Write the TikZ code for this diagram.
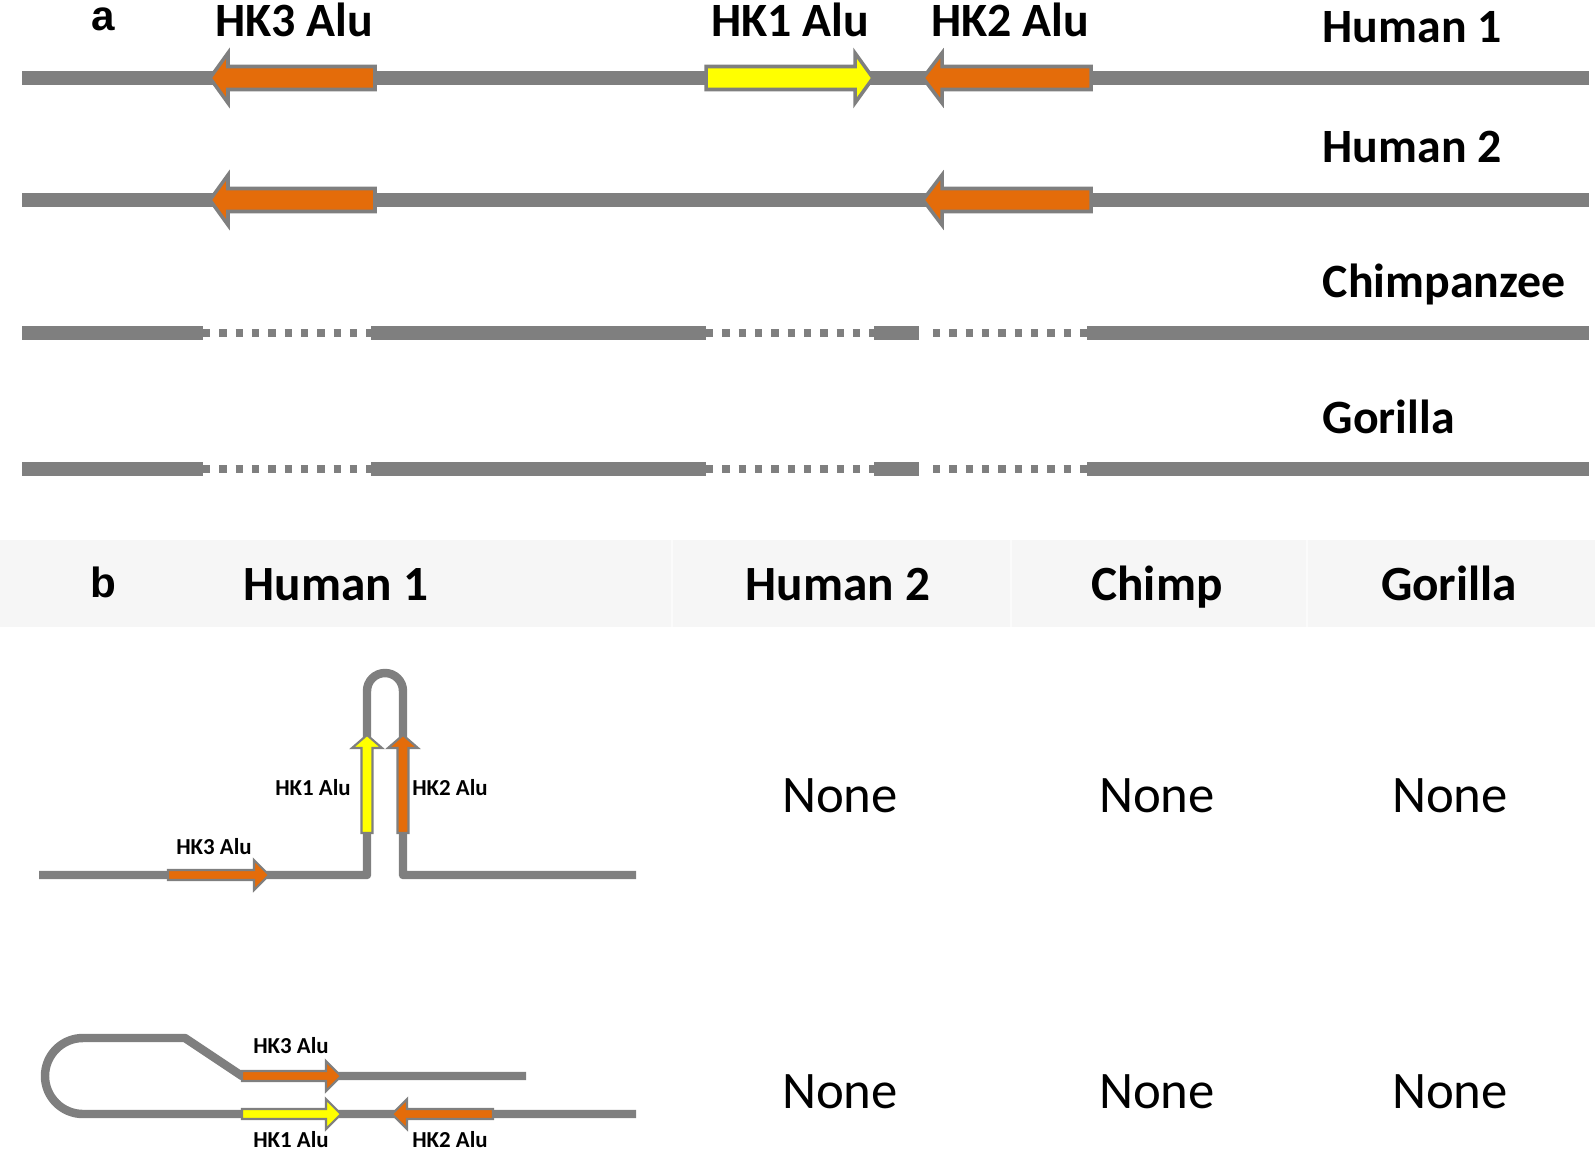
\documentclass[tikz,border=0pt]{standalone}
\usepackage{fontspec}
\setmainfont{Carlito}
\newfontfamily\panelfont{Liberation Sans}
\usetikzlibrary{positioning, calc}

\definecolor{strandgray}{RGB}{127,127,127}
\definecolor{aluorange}{RGB}{228,108,10}
\definecolor{aluyellow}{RGB}{255,255,0}
\definecolor{headbg}{RGB}{246,246,246}

\begin{document}
\begin{tikzpicture}[x=0.01cm, y=-0.01cm]

  % Define styles
  \tikzset{
    strand/.style={draw=strandgray, line width=3.7pt},
    thin strand/.style={draw=strandgray, line width=2.4pt, line join=round},
    gap dots/.style={draw=strandgray, line width=2.1pt, dash pattern=on 2.1pt off 2.54pt},
    alu edge/.style={draw=strandgray, line width=1pt, line join=miter},
    small alu edge/.style={draw=strandgray, line width=0.6pt, line join=miter},
    cap text/.style={inner sep=0pt, text depth=0pt},
    big label/.style={cap text, text height=8.7pt, font=\bfseries\fontsize{13.6}{16}\selectfont},
    head label/.style={cap text, text height=9pt, font=\bfseries\fontsize{14}{17}\selectfont},
    none label/.style={cap text, text height=9.6pt, font=\fontsize{15}{18}\selectfont},
    small label/.style={cap text, text height=4.2pt, font=\bfseries\fontsize{6.5}{8}\selectfont},
    panel letter/.style={inner sep=0pt, font=\panelfont\bfseries\fontsize{12}{14}\selectfont},
    % fill, length, body half, head half, head length, edge style
    pics/alu/.style n args={6}{code={
      \path[#6, fill=#1] (0,-#3) -- ({#2-#5},-#3) -- ({#2-#5},-#4) -- (#2,0)
        -- ({#2-#5},#4) -- ({#2-#5},#3) -- (0,#3) -- cycle;
    }},
  }

  \useasboundingbox (0,0) rectangle (1595,1152);

  % Panel a: the four sequences
  \foreach \yy in {78, 200}
    \draw[strand] (22,\yy) -- (1589,\yy);
  \foreach \yy in {333, 469} {
    \draw[strand] (22,\yy) -- (203,\yy);
    \draw[strand] (371,\yy) -- (706,\yy);
    \draw[strand] (874,\yy) -- (919,\yy);
    \draw[strand] (1087,\yy) -- (1589,\yy);
    \draw[gap dots] (203,\yy) -- (371,\yy);
    \draw[gap dots] (706,\yy) -- (874,\yy);
    \draw[gap dots] (933,\yy) -- (1087,\yy);
  }

  % Alu insertions
  \foreach \yy in {78, 200} {
    \pic[rotate=180] at (375,\yy) {alu={aluorange}{165}{11.5}{25}{18}{alu edge}};
    \pic[rotate=180] at (1091,\yy) {alu={aluorange}{168}{11.5}{25}{19}{alu edge}};
  }
  \pic at (706,78) {alu={aluyellow}{167}{11.5}{25}{18}{alu edge}};

  \node[panel letter, anchor=base] (letA) at (103,31) {a};
  \node[big label] (hk3top) at (294,21) {HK3 Alu};
  \node[big label] (hk1top) at (790,21) {HK1 Alu};
  \node[big label] (hk2top) at (1010,21) {HK2 Alu};
  \node[big label, anchor=west] (human1) at (1322,27) {Human 1};
  \node[big label, anchor=west] (human2) at (1322,147) {Human 2};
  \node[big label, anchor=west] (chimp) at (1322,282) {Chimpanzee};
  \node[big label, anchor=west] (gorilla) at (1322,418) {Gorilla};

  % Panel b: header row
  \fill[headbg] (0,540) rectangle (1595,627);
  \foreach \xx in {672, 1011, 1307}
    \draw[white!60!headbg, line width=0.4pt] (\xx,540) -- (\xx,627);
  \node[panel letter, anchor=base] (letB) at (103,597) {b};
  \node[head label] (colHumanA) at (336,585) {Human 1};
  \node[head label] (colHumanB) at (838,585) {Human 2};
  \node[head label] (colChimp) at (1157,585) {Chimp};
  \node[head label] (colGorilla) at (1449,585) {Gorilla};

  \foreach \yy/\rw in {796/one, 1092/two}
    \foreach \xx/\cl in {840/humanB, 1157/chimp, 1450/gorilla}
      \node[none label] (none-\rw-\cl) at (\xx,\yy) {None};

  % Hairpin structure
  \draw[thin strand] (39,875) -- (367,875) -- (367,691)
    arc[start angle=180, end angle=360, radius=18] -- (403,875) -- (636,875);
  \pic at (168,875) {alu={aluorange}{101}{5}{15}{15}{small alu edge}};
  \pic[rotate=90] at (367,833) {alu={aluyellow}{98}{5.5}{15}{13}{small alu edge}};
  \pic[rotate=90] at (403,833) {alu={aluorange}{98}{5.5}{15}{13}{small alu edge}};
  \node[small label] (hk3loop) at (214,847) {HK3 Alu};
  \node[small label] (hk1loop) at (313,788) {HK1 Alu};
  \node[small label] (hk2loop) at (450,788) {HK2 Alu};

  % Folded structure
  \draw[thin strand] (526,1076) -- (242,1076) -- (185,1038) -- (83,1038)
    arc[start angle=270, end angle=90, radius=38] -- (636,1114);
  \pic at (242,1076) {alu={aluorange}{99}{5}{15}{15}{small alu edge}};
  \pic at (242,1114) {alu={aluyellow}{99}{5}{15}{15}{small alu edge}};
  \pic[rotate=180] at (493,1114) {alu={aluorange}{101}{5}{15}{15}{small alu edge}};
  \node[small label] (hk3fold) at (291,1046) {HK3 Alu};
  \node[small label] (hk1fold) at (291,1140) {HK1 Alu};
  \node[small label] (hk2fold) at (450,1140) {HK2 Alu};

\end{tikzpicture}
\end{document}
